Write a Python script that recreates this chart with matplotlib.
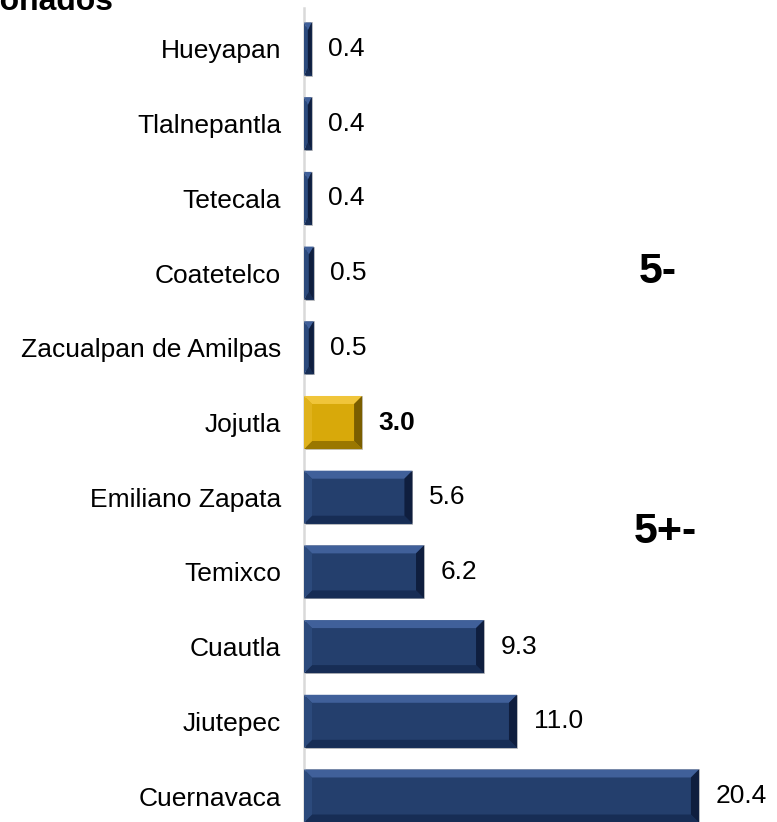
import matplotlib.pyplot as plt
from matplotlib.patches import Polygon

plt.rcParams['font.family'] = ['Liberation Sans', 'DejaVu Sans']

municipios = ["Hueyapan", "Tlalnepantla", "Tetecala", "Coatetelco", "Zacualpan de Amilpas",
              "Jojutla", "Emiliano Zapata", "Temixco", "Cuautla", "Jiutepec", "Cuernavaca"]
valores = [0.4, 0.4, 0.4, 0.5, 0.5, 3.0, 5.6, 6.2, 9.3, 11.0, 20.4]
destacado = "Jojutla"

azul = {'face': '#243F6D', 'top': '#40609A', 'left': '#2C4A7C', 'right': '#0F1E3E', 'bottom': '#172D55'}
oro = {'face': '#D8A90A', 'top': '#F0C53A', 'left': '#E0B21C', 'right': '#7A5E00', 'bottom': '#9A7700'}

W, H, DPI = 777, 822, 100
fig = plt.figure(figsize=(W / DPI, H / DPI), dpi=DPI)
ax = fig.add_axes([304 / W, 0, 1 - 304 / W, (H - 8) / H])

pos = list(range(len(municipios)))
alto = 0.71
px_x = 19.36
px_y = 74.7
ax.set_xlim(0, (W - 304) / px_x)
ax.set_ylim((H - 49) / px_y, -(49 - 8) / px_y)

# barras con efecto biselado
for i, (m, v) in enumerate(zip(municipios, valores)):
    c = oro if m == destacado else azul
    ax.barh(i, v, height=alto, color=c['face'], edgecolor='#BFBFBF', linewidth=0.6, zorder=2)
    x0, x1 = 0, v
    y0, y1 = i - alto / 2, i + alto / 2
    bx = min(8 / px_x, v / 2)
    by = 8 / px_y
    caras = [
        ('top', [(x0, y0), (x1, y0), (x1 - bx, y0 + by), (x0 + bx, y0 + by)]),
        ('bottom', [(x0, y1), (x1, y1), (x1 - bx, y1 - by), (x0 + bx, y1 - by)]),
        ('left', [(x0, y0), (x0 + bx, y0 + by), (x0 + bx, y1 - by), (x0, y1)]),
        ('right', [(x1, y0), (x1 - bx, y0 + by), (x1 - bx, y1 - by), (x1, y1)]),
    ]
    for lado, pts in caras:
        ax.add_patch(Polygon(pts, closed=True, facecolor=c[lado], edgecolor='none', zorder=3))
    peso = 'bold' if m == destacado else 'normal'
    ax.annotate(f"{v:.1f}", xy=(v, i), xytext=(12, 0), textcoords='offset points',
                ha='left', va='center', fontsize=19, fontweight=peso, color='black')

ax.set_yticks(pos)
ax.set_yticklabels(municipios, fontsize=19)
ax.tick_params(axis='y', length=0, pad=16.5)
ax.set_xticks([])
for s in ['top', 'right', 'bottom']:
    ax.spines[s].set_visible(False)
ax.spines['left'].set_color('#D9D9D9')
ax.spines['left'].set_linewidth(1.8)
ax.patch.set_alpha(0)

fig.text(658 / W, 1 - 272 / H, "5-", fontsize=31, fontweight='bold', ha='center', va='center')
fig.text(665 / W, 1 - 532 / H, "5+-", fontsize=31, fontweight='bold', ha='center', va='center')
fig.text(113 / W, 1 - 10 / H, "Municipios seleccionados", fontsize=23, fontweight='bold',
         ha='right', va='baseline')

fig.savefig("out.png", dpi=DPI)
